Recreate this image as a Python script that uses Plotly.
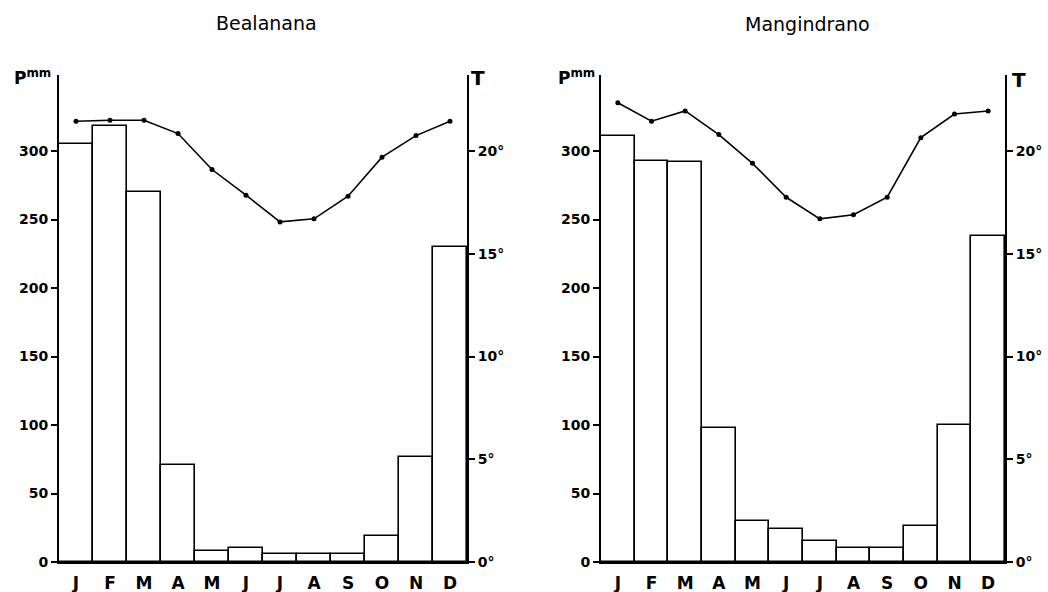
import plotly.graph_objects as go

months = ["J", "F", "M", "A", "M", "J", "J", "A", "S", "O", "N", "D"]
bealanana_precip = [305, 318, 270, 71, 8, 10, 6, 6, 6, 19, 77, 230]
bealanana_temp = [21.45, 21.5, 21.5, 20.85, 19.1, 17.85, 16.55, 16.7, 17.8, 19.7, 20.75, 21.45]
mangindrano_precip = [311, 293, 292, 98, 30, 24, 15, 10, 10, 26, 100, 238]
mangindrano_temp = [22.35, 21.45, 21.95, 20.8, 19.4, 17.75, 16.7, 16.9, 17.75, 20.65, 21.8, 21.95]
precip_ticks = [0, 50, 100, 150, 200, 250, 300]
temp_ticks = [0, 5, 10, 15, 20]
temp_tick_text = ["0°", "5°", "10°", "15°", "20°"]

W, H = 1048, 592
P_MAX = 355.5          # precipitation axis top (mm)
T_MAX = P_MAX / 15.0   # 1 degree = 15 mm
y_dom = [(H - 562) / H, (H - 75) / H]
x_dom_left = [59 / W, 467 / W]
x_dom_right = [601 / W, 1005 / W]

idx = list(range(12))
fig = go.Figure()

def add_station(precip, temp, xa, ya, ya2):
    fig.add_trace(go.Bar(
        x=idx, y=precip, width=1.0, xaxis=xa, yaxis=ya,
        marker=dict(color="white", line=dict(color="black", width=1.6)),
        showlegend=False, hoverinfo="skip"))
    fig.add_trace(go.Scatter(
        x=idx, y=temp, xaxis=xa, yaxis=ya2, mode="lines+markers",
        line=dict(color="black", width=1.6),
        marker=dict(color="black", size=5),
        showlegend=False, hoverinfo="skip"))

add_station(bealanana_precip, bealanana_temp, "x", "y", "y2")
add_station(mangindrano_precip, mangindrano_temp, "x2", "y3", "y4")

tickfont = dict(family="DejaVu Sans", size=14, color="black", weight="bold")
monthfont = dict(family="DejaVu Sans", size=17, color="black", weight="bold")

def xaxis_cfg(dom, anchor):
    return dict(domain=dom, anchor=anchor, range=[-0.5, 11.5],
                tickmode="array", tickvals=idx, ticktext=months,
                showline=True, linecolor="black", linewidth=2,
                ticks="", showgrid=False, zeroline=False, automargin=False,
                ticklabelstandoff=5,
                tickfont=monthfont, fixedrange=True)

def yaxis_cfg(anchor):
    return dict(domain=y_dom, anchor=anchor, range=[0, P_MAX],
                tickmode="array", tickvals=precip_ticks,
                showline=True, linecolor="black", linewidth=2,
                ticks="outside", ticklen=6, tickwidth=2, tickcolor="black",
                showgrid=False, zeroline=False, automargin=False,
                tickfont=tickfont, fixedrange=True)

def y2axis_cfg(anchor, overlay):
    return dict(domain=y_dom, anchor=anchor, overlaying=overlay, side="right",
                range=[0, T_MAX], tickmode="array", tickvals=temp_ticks,
                ticktext=temp_tick_text,
                showline=True, linecolor="black", linewidth=2,
                ticks="outside", ticklen=6, tickwidth=2, tickcolor="black",
                showgrid=False, zeroline=False, automargin=False,
                tickfont=tickfont, fixedrange=True)

fig.update_layout(
    width=W, height=H,
    margin=dict(l=0, r=0, t=0, b=0, autoexpand=False),
    paper_bgcolor="white", plot_bgcolor="white",
    xaxis=xaxis_cfg(x_dom_left, "y"),
    yaxis=yaxis_cfg("x"),
    yaxis2=y2axis_cfg("x", "y"),
    xaxis2=xaxis_cfg(x_dom_right, "y3"),
    yaxis3=yaxis_cfg("x2"),
    yaxis4=y2axis_cfg("x2", "y3"),
    bargap=0,
)

titlefont = dict(family="DejaVu Sans", size=19, color="black")
labfont = dict(family="DejaVu Sans", size=17, color="black", weight="bold")
tfont = dict(family="DejaVu Sans", size=20, color="black", weight="bold")
annots = [
    dict(text="Bealanana", x=266 / W, y=1 - 23 / H, font=titlefont),
    dict(text="Mangindrano", x=807 / W, y=1 - 24 / H, font=titlefont),
    dict(text="P<sup>mm</sup>", x=32 / W, y=1 - 77 / H, font=labfont),
    dict(text="P<sup>mm</sup>", x=576 / W, y=1 - 77 / H, font=labfont),
    dict(text="T", x=478 / W, y=1 - 78 / H, font=tfont),
    dict(text="T", x=1019 / W, y=1 - 80 / H, font=tfont),
]
for a in annots:
    a.update(xref="paper", yref="paper", showarrow=False, xanchor="center", yanchor="middle")
fig.update_layout(annotations=annots)

fig.write_html("out.html", config={"displayModeBar": False},
               post_script="document.body.style.margin='0';document.body.style.overflow='hidden';")
